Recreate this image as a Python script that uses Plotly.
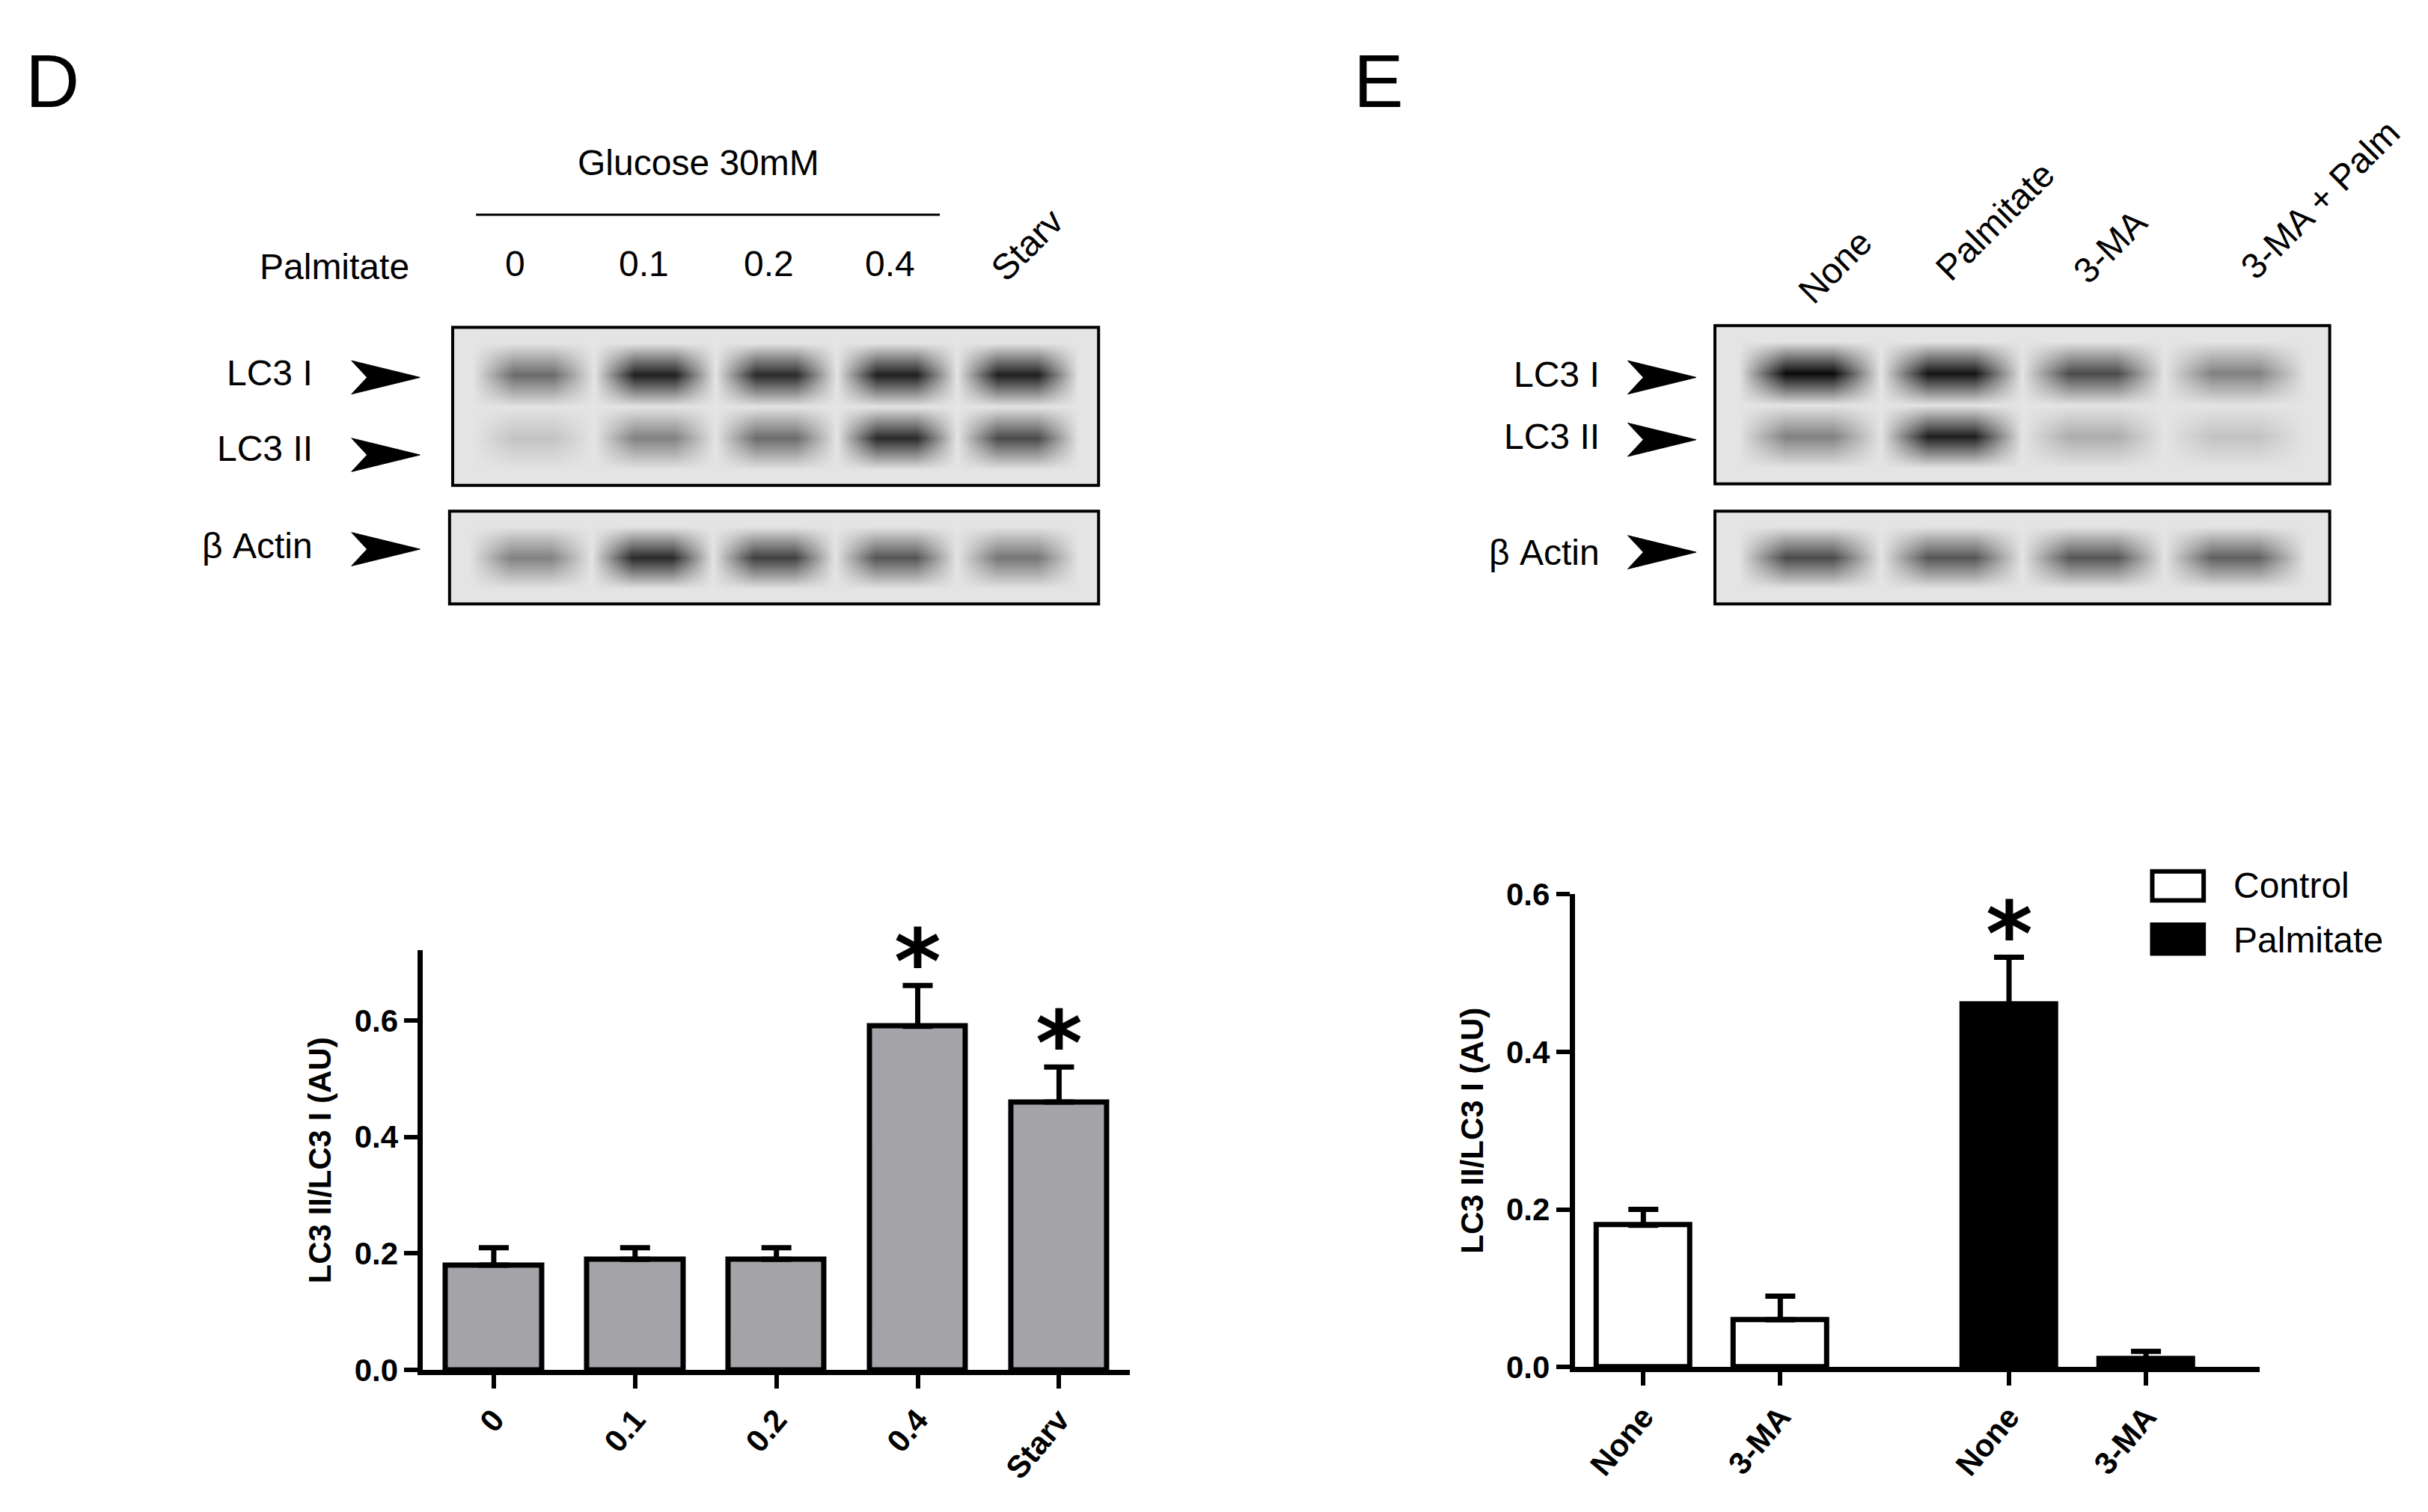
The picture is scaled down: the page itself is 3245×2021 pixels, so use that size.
import plotly.graph_objects as go

# bar data
d_cats = ['0', '0.1', '0.2', '0.4', 'Starv']
d_vals = [0.18, 0.19, 0.19, 0.59, 0.46]
d_err = [0.03, 0.02, 0.02, 0.07, 0.06]
d_star = [False, False, False, True, True]

e_pos = [0, 1, 2.67, 3.67]
e_labels = ['None', '3-MA', 'None', '3-MA']
ctrl_idx = [0, 1]
palm_idx = [2, 3]
e_vals = [0.18, 0.06, 0.46, 0.01]
e_err = [0.02, 0.03, 0.06, 0.01]
e_star = [False, False, True, False]

# blot band intensities (0 = background, 1 = black)
d_lanes = ['0', '0.1', '0.2', '0.4', 'Starv']
d_lc3i = [0.55, 0.9, 0.85, 0.9, 0.9]
d_lc3ii = [0.15, 0.45, 0.55, 0.85, 0.7]
d_actin = [0.45, 0.85, 0.75, 0.65, 0.5]
e_lanes = ['None', 'Palmitate', '3-MA', '3-MA + Palm']
e_lc3i = [1.0, 0.95, 0.7, 0.45]
e_lc3ii = [0.45, 0.9, 0.25, 0.15]
e_actin = [0.7, 0.65, 0.65, 0.6]

W, H = 1560.0, 971.5
def px(x): return x / W
def py(y): return 1 - y / H

FONT = 'Liberation Sans'
fig = go.Figure()

err_style = dict(type='data', symmetric=False, color='black', thickness=7, width=20)

# D bars
fig.add_trace(go.Bar(x=list(range(5)), y=d_vals, width=0.68, marker=dict(color='#a3a3a8', line=dict(color='black', width=7)),
                     error_y=dict(err_style, array=d_err, arrayminus=[0]*5),
                     showlegend=False, xaxis='x', yaxis='y'))
# E bars
fig.add_trace(go.Bar(x=[e_pos[i] for i in ctrl_idx], y=[e_vals[i] for i in ctrl_idx], width=0.68, name='Control',
                     marker=dict(color='white', line=dict(color='black', width=7)),
                     error_y=dict(err_style, array=[e_err[i] for i in ctrl_idx], arrayminus=[0, 0]),
                     showlegend=False, xaxis='x2', yaxis='y2'))
fig.add_trace(go.Bar(x=[e_pos[i] for i in palm_idx], y=[e_vals[i] for i in palm_idx], width=0.68, name='Palmitate',
                     marker=dict(color='black', line=dict(color='black', width=7)),
                     error_y=dict(err_style, array=[e_err[i] for i in palm_idx], arrayminus=[0, 0]),
                     showlegend=False, xaxis='x2', yaxis='y2'))

# blots as smoothed heatmaps
def blot_grid(rows):
    z = []
    n = len(rows[0])
    for r in [None] + rows + [None]:
        line = [0]
        for i in range(n):
            v = 0 if r is None else r[i]
            line += [v, v, 0]
        z.append(line)
    return z

grey = [[0, '#e4e4e4'], [0.5, '#777777'], [1, '#0a0a0a']]
blots = [
    ('x3', 'y3', blot_grid([d_lc3i, [0]*5, d_lc3ii]), (287, 702, 200, 304)),
    ('x4', 'y4', blot_grid([d_actin]), (285, 702, 321, 382)),
    ('x5', 'y5', blot_grid([e_lc3i, [0]*4, e_lc3ii]), (1098, 1493, 199, 303)),
    ('x6', 'y6', blot_grid([e_actin]), (1098, 1493, 321, 382)),
]
for xa, ya, z, _ in blots:
    fig.add_trace(go.Heatmap(z=z[::-1], colorscale=grey, zmin=0, zmax=1, zsmooth='best', showscale=False,
                             xaxis=xa, yaxis=ya, hoverinfo='skip'))

shapes = []
for _, _, _, (x0, x1, y0, y1) in blots:
    shapes.append(dict(type='rect', xref='paper', yref='paper', x0=px(x0), x1=px(x1), y0=py(y1), y1=py(y0),
                       line=dict(color='black', width=4)))

def arrow(xl, xr, y):
    return dict(type='path', xref='paper', yref='paper', fillcolor='black', line=dict(color='black', width=1),
                path=f'M {px(xl)},{py(y-11)} L {px(xr)},{py(y)} L {px(xl)},{py(y+11)} L {px(xl+10)},{py(y)} Z')

for y in (233, 284, 346):
    shapes.append(arrow(222, 266, y))
for y in (233, 274, 348):
    shapes.append(arrow(1042, 1086, y))
shapes.append(dict(type='line', xref='paper', yref='paper', x0=px(302), x1=px(600), y0=py(126), y1=py(126),
                   line=dict(color='black', width=3)))

# legend boxes
shapes.append(dict(type='rect', xref='paper', yref='paper', x0=px(1379), x1=px(1412), y0=py(577), y1=py(558),
                   fillcolor='white', line=dict(color='black', width=6)))
shapes.append(dict(type='rect', xref='paper', yref='paper', x0=px(1379), x1=px(1412), y0=py(612), y1=py(593),
                   fillcolor='black', line=dict(color='black', width=6)))

ann = []
def txt(x, y, s, size=48, xanchor='center', angle=0):
    ann.append(dict(x=px(x), y=py(y), xref='paper', yref='paper', text=s, showarrow=False, xanchor=xanchor,
                    yanchor='middle', textangle=angle, font=dict(family=FONT, size=size, color='black')))

txt(30, 38, 'D', size=100)
txt(882, 38, 'E', size=100)
txt(445, 92, 'Glucose 30mM')
txt(260, 160, 'Palmitate', xanchor='right')
for lx, lab in zip([327, 410, 490, 568], d_lanes[:4]):
    txt(lx, 158, lab)
txt(656, 146, 'Starv', angle=-45)
txt(198, 230, 'LC3 I', xanchor='right')
txt(198, 280, 'LC3 II', xanchor='right')
txt(198, 344, 'β Actin', xanchor='right')
for lx, ly, lab in zip([1175, 1278, 1352, 1487], [160, 130, 147, 116], e_lanes):
    txt(lx, ly, lab, angle=-45)
txt(1025, 231, 'LC3 I', xanchor='right')
txt(1025, 272, 'LC3 II', xanchor='right')
txt(1025, 348, 'β Actin', xanchor='right')
txt(1430, 567, 'Control', xanchor='left')
txt(1430, 603, 'Palmitate', xanchor='left')

star_font = dict(family='DejaVu Sans', size=120, color='black', weight='bold')
for i in range(5):
    if d_star[i]:
        ann.append(dict(x=i, y=d_vals[i] + d_err[i], xref='x', yref='y', text='*', showarrow=False, yanchor='bottom',
                        yshift=-40, font=star_font))
for i in range(4):
    if e_star[i]:
        ann.append(dict(x=e_pos[i], y=e_vals[i] + e_err[i], xref='x2', yref='y2', text='*', showarrow=False,
                        yanchor='bottom', yshift=-40, font=star_font))

axis_common = dict(showgrid=False, zeroline=False, showline=True, linecolor='black', linewidth=7,
                   ticks='outside', ticklen=18, tickwidth=6, tickcolor='black',
                   tickfont=dict(family=FONT, size=42, color='black', weight='bold'))
title_font = dict(family=FONT, size=42, color='black', weight='bold')
hidden = dict(visible=False, showgrid=False, zeroline=False)

fig.update_layout(
    width=3245, height=2021, margin=dict(l=0, r=0, t=0, b=0),
    paper_bgcolor='white', plot_bgcolor='white', bargap=0, showlegend=False,
    xaxis=dict(axis_common, domain=[px(268), px(722)], range=[-0.5, 4.5], tickvals=list(range(5)), ticktext=d_cats,
               tickangle=-50, anchor='y'),
    yaxis=dict(axis_common, domain=[py(886), py(610)], range=[0, 0.72], tickvals=[0, 0.2, 0.4, 0.6],
               tickformat='.1f', anchor='x',
               title=dict(text='LC3 II/LC3 I (AU)', font=title_font, standoff=20)),
    xaxis2=dict(axis_common, domain=[px(1008), px(1448)], range=[-0.5, 4.5], tickvals=e_pos, ticktext=e_labels,
                tickangle=-50, anchor='y2'),
    yaxis2=dict(axis_common, domain=[py(884), py(573)], range=[0, 0.6], tickvals=[0, 0.2, 0.4, 0.6],
                tickformat='.1f', anchor='x2',
                title=dict(text='LC3 II/LC3 I (AU)', font=title_font, standoff=20)),
    shapes=shapes, annotations=ann,
)
for k, (xa, ya, _, (x0, x1, y0, y1)) in enumerate(blots):
    n = 3 + k
    fig.update_layout({f'xaxis{n}': dict(hidden, domain=[px(x0), px(x1)], anchor=f'y{n}'),
                       f'yaxis{n}': dict(hidden, domain=[py(y1), py(y0)], anchor=f'x{n}')})

fig.write_html('out.html')
